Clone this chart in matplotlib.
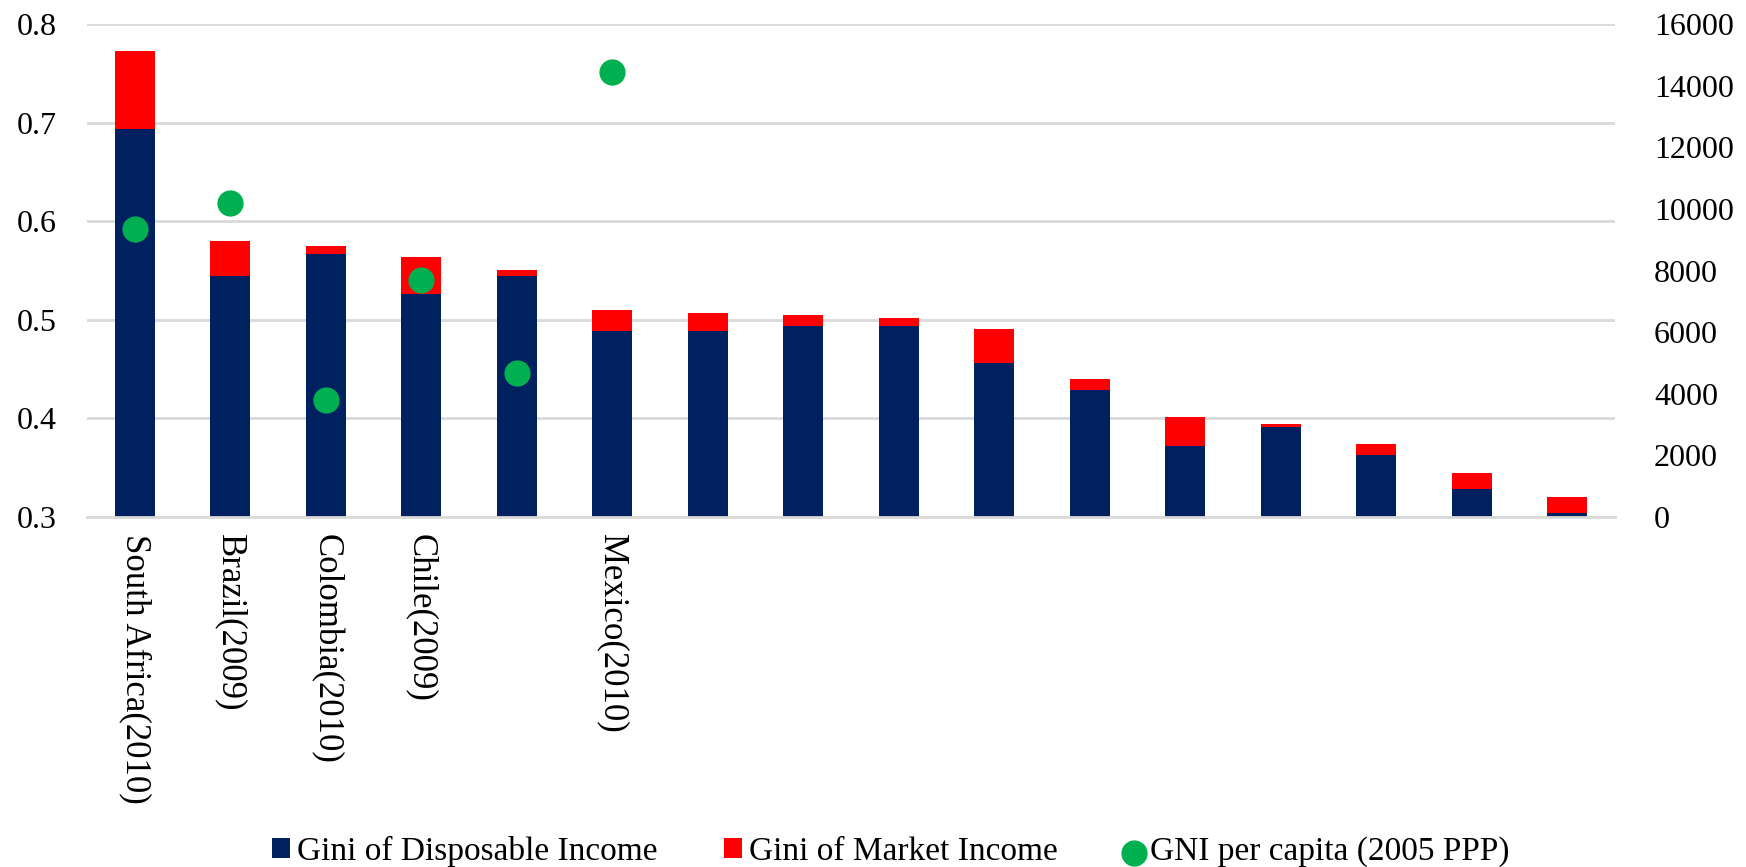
import matplotlib.pyplot as plt
import numpy as np

plt.rcParams['font.family'] = 'Liberation Serif'

# Countries (only the first few are labelled in the source chart)
countries = ['South Africa(2010)', 'Brazil(2009)', 'Colombia(2010)', 'Chile(2009)', '',
             'Mexico(2010)', '', '', '', '', '', '', '', '', '', '']

# Gini coefficients
gini_disposable = [0.694, 0.545, 0.567, 0.526, 0.545, 0.489, 0.489, 0.494,
                   0.494, 0.456, 0.429, 0.372, 0.391, 0.363, 0.328, 0.304]
gini_market = [0.773, 0.580, 0.575, 0.564, 0.551, 0.510, 0.507, 0.505,
               0.502, 0.491, 0.440, 0.401, 0.394, 0.374, 0.345, 0.320]

# GNI per capita (2005 PPP), available for first six countries
gni = [9340, 10200, 3790, 7680, 4660, 14440]

navy = '#002060'
red = '#FF0000'
green = '#00B050'
grid_col = '#D9D9D9'

x = np.arange(len(countries))
disp = np.array(gini_disposable)
mkt = np.array(gini_market)

fig, ax = plt.subplots(figsize=(17.46, 8.67), dpi=100)
fig.subplots_adjust(left=0.0498, right=0.925, top=0.972, bottom=0.4037)

ax.bar(x, disp, width=0.42, color=navy, label='Gini of Disposable Income', zorder=2)
ax.bar(x, mkt - disp, bottom=disp, width=0.42, color=red,
       label='Gini of Market Income', zorder=2)

ax.set_ylim(0.3, 0.8)
ax.set_xlim(-0.5, len(countries) - 0.5)
ax.set_yticks(np.arange(0.3, 0.81, 0.1))
ax.set_yticklabels(['%.1f' % v for v in np.arange(0.3, 0.81, 0.1)])
ax.yaxis.grid(True, color=grid_col, lw=2)
ax.set_axisbelow(True)
ax.set_xticks(x)
ax.set_xticklabels(countries, rotation=270, fontsize=25)
ax.tick_params(axis='x', length=0, pad=12)
ax.tick_params(axis='y', length=0, pad=22, labelsize=23)

ax2 = ax.twinx()
ax2.scatter(x[:len(gni)], gni, s=320, color=green, label='GNI per capita (2005 PPP)', zorder=3)
ax2.set_ylim(0, 16000)
ax2.set_yticks(np.arange(0, 16001, 2000))
ax2.tick_params(axis='y', length=0, pad=28, labelsize=23)

for a in (ax, ax2):
    for s in a.spines.values():
        s.set_visible(False)
ax.spines['bottom'].set_visible(True)
ax.spines['bottom'].set_color(grid_col)
ax.spines['bottom'].set_linewidth(2)

h1, l1 = ax.get_legend_handles_labels()
h2, l2 = ax2.get_legend_handles_labels()
fig.legend(h1 + h2, l1 + l2, loc='lower center', bbox_to_anchor=(0.51, -0.035), ncol=3,
           frameon=False, fontsize=24, handlelength=0.55, handleheight=0.55,
           handletextpad=0.2, columnspacing=2.0)

fig.savefig('out.png', dpi=100)
